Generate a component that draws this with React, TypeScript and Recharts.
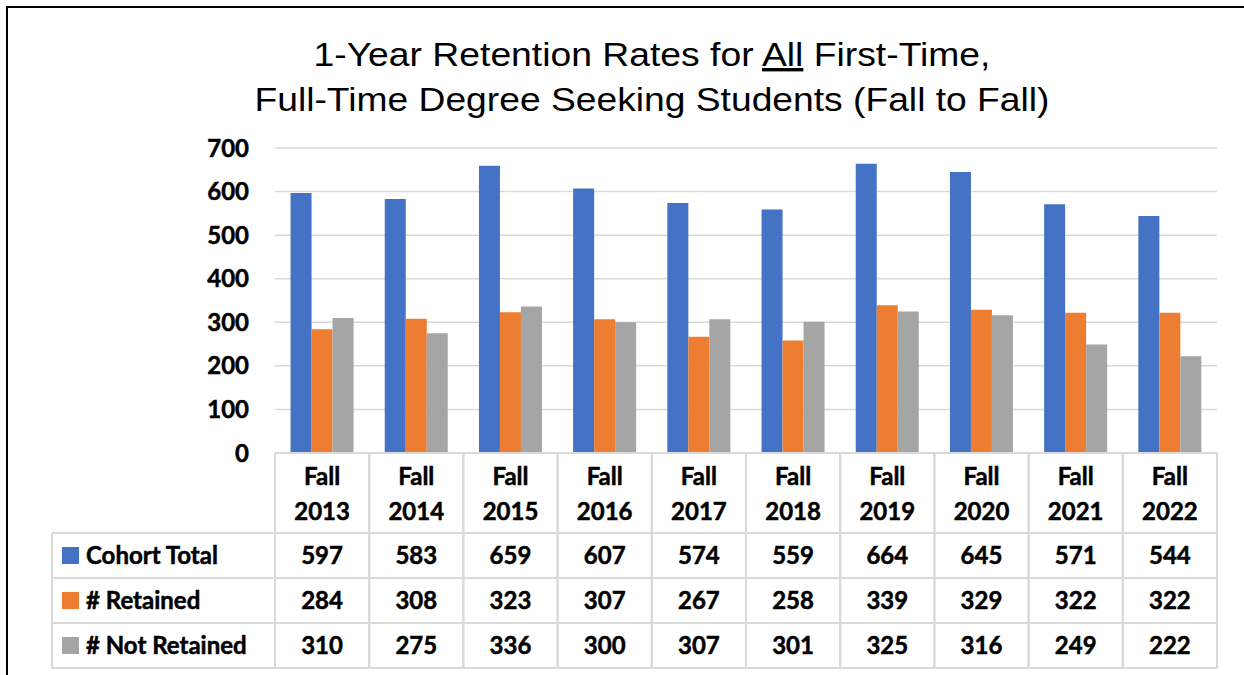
import React from "react";
import { BarChart, Bar, XAxis, YAxis, CartesianGrid } from "recharts";

const categories = ["Fall 2013", "Fall 2014", "Fall 2015", "Fall 2016", "Fall 2017", "Fall 2018", "Fall 2019", "Fall 2020", "Fall 2021", "Fall 2022"];
const cohortTotal = [597, 583, 659, 607, 574, 559, 664, 645, 571, 544];
const retained = [284, 308, 323, 307, 267, 258, 339, 329, 322, 322];
const notRetained = [310, 275, 336, 300, 307, 301, 325, 316, 249, 222];
const seriesNames = ["Cohort Total", "# Retained", "# Not Retained"];
const seriesKeys = ["cohort", "retained", "notRetained"];
const seriesColors = ["#4472C4", "#ED7D31", "#A5A5A5"];
const seriesValues = [cohortTotal, retained, notRetained];
const yTicks = [0, 100, 200, 300, 400, 500, 600, 700];
const titleLine1a = "1-Year Retention Rates for ";
const titleLine1b = "All";
const titleLine1c = " First-Time,";
const titleLine2 = "Full-Time Degree Seeking Students (Fall to Fall)";

const data = categories.map((c, i) => ({
  name: c,
  cohort: cohortTotal[i],
  retained: retained[i],
  notRetained: notRetained[i],
}));

const W = 1244;
const H = 675;
const MARGIN = { top: 148, right: 27, bottom: 0, left: 195 };
const YAXIS_W = 80;
const PLOT_BOTTOM = 453;
const PLOT_LEFT = MARGIN.left + YAXIS_W;
const PLOT_W = W - MARGIN.left - YAXIS_W - MARGIN.right;
const CELL_W = PLOT_W / categories.length;
const HEADER_BOTTOM = 533;
const ROW_H = 45;
const GRID = "#D9D9D9";
const FONT = "Lato, 'Open Sans', sans-serif";
const BOLD = { fontFamily: FONT, fontWeight: 700, fontSize: 24, fill: "#000", stroke: "#000", strokeWidth: 0.5 };

const TableTick = (props: any) => {
  const { x, index } = props;
  const left = x - CELL_W / 2;
  const right = x + CELL_W / 2;
  const label = categories[index] || "";
  const parts = label.split(" ");
  const bottom = HEADER_BOTTOM + ROW_H * seriesValues.length;
  return (
    <g>
      <line x1={left} x2={left} y1={PLOT_BOTTOM} y2={bottom} stroke={GRID} strokeWidth={2} />
      <line x1={right} x2={right} y1={PLOT_BOTTOM} y2={bottom} stroke={GRID} strokeWidth={2} />
      {[0, 1, 2, 3].map((r) => (
        <line key={r} x1={left} x2={right} y1={HEADER_BOTTOM + r * ROW_H} y2={HEADER_BOTTOM + r * ROW_H} stroke={GRID} strokeWidth={2} />
      ))}
      <text x={x} y={485} textAnchor="middle" {...BOLD}>{parts[0]}</text>
      <text x={x} y={520} textAnchor="middle" {...BOLD}>{parts[1]}</text>
      {seriesValues.map((vals, r) => (
        <text key={r} x={x} y={HEADER_BOTTOM + r * ROW_H + 31} textAnchor="middle" {...BOLD}>
          {vals[index]}
        </text>
      ))}
    </g>
  );
};

export default function App() {
  const bottom = HEADER_BOTTOM + ROW_H * seriesValues.length;
  return (
    <div style={{ position: "absolute", left: 0, top: 0, width: W, height: H, background: "#fff", overflow: "hidden" }}>
      <BarChart
        width={W}
        height={H}
        data={data}
        margin={MARGIN}
        barCategoryGap="16.5%"
        barGap={0}
      >
        <CartesianGrid vertical={false} stroke={GRID} strokeWidth={1.5} />
        <XAxis
          dataKey="name"
          height={H - PLOT_BOTTOM}
          axisLine={{ stroke: GRID, strokeWidth: 2 }}
          tickLine={false}
          interval={0}
          tick={<TableTick />}
        />
        <YAxis
          width={YAXIS_W}
          domain={[0, 700]}
          ticks={yTicks}
          axisLine={false}
          tickLine={false}
          tickMargin={20}
          tick={BOLD}
        />
        {seriesKeys.map((k, i) => (
          <Bar key={k} dataKey={k} name={seriesNames[i]} fill={seriesColors[i]} isAnimationActive={false} />
        ))}
      </BarChart>
      <svg width={W} height={H} style={{ position: "absolute", left: 0, top: 0, pointerEvents: "none" }}>
        <line x1={6} x2={W} y1={7} y2={7} stroke="#000" strokeWidth={2} />
        <line x1={7} x2={7} y1={6} y2={H} stroke="#000" strokeWidth={2} />
        <text x={652} y={66} textAnchor="middle" fontFamily="'Liberation Sans', Arial, sans-serif" fontSize={34} fill="#000" textLength={677} lengthAdjust="spacingAndGlyphs">
          {titleLine1a}
          <tspan style={{ textDecoration: "underline" }}>{titleLine1b}</tspan>
          {titleLine1c}
        </text>
        <text x={652} y={111} textAnchor="middle" fontFamily="'Liberation Sans', Arial, sans-serif" fontSize={34} fill="#000" textLength={795} lengthAdjust="spacingAndGlyphs">
          {titleLine2}
        </text>
        <line x1={52} x2={52} y1={HEADER_BOTTOM} y2={bottom} stroke={GRID} strokeWidth={2} />
        <line x1={52} x2={PLOT_LEFT} y1={HEADER_BOTTOM} y2={HEADER_BOTTOM} stroke={GRID} strokeWidth={2} />
        {seriesNames.map((n, r) => (
          <g key={n}>
            <line x1={52} x2={PLOT_LEFT} y1={HEADER_BOTTOM + (r + 1) * ROW_H} y2={HEADER_BOTTOM + (r + 1) * ROW_H} stroke={GRID} strokeWidth={2} />
            <rect x={62} y={HEADER_BOTTOM + r * ROW_H + 14} width={17} height={17} fill={seriesColors[r]} />
            <text x={86} y={HEADER_BOTTOM + r * ROW_H + 31} {...BOLD}>{n}</text>
          </g>
        ))}
      </svg>
    </div>
  );
}
